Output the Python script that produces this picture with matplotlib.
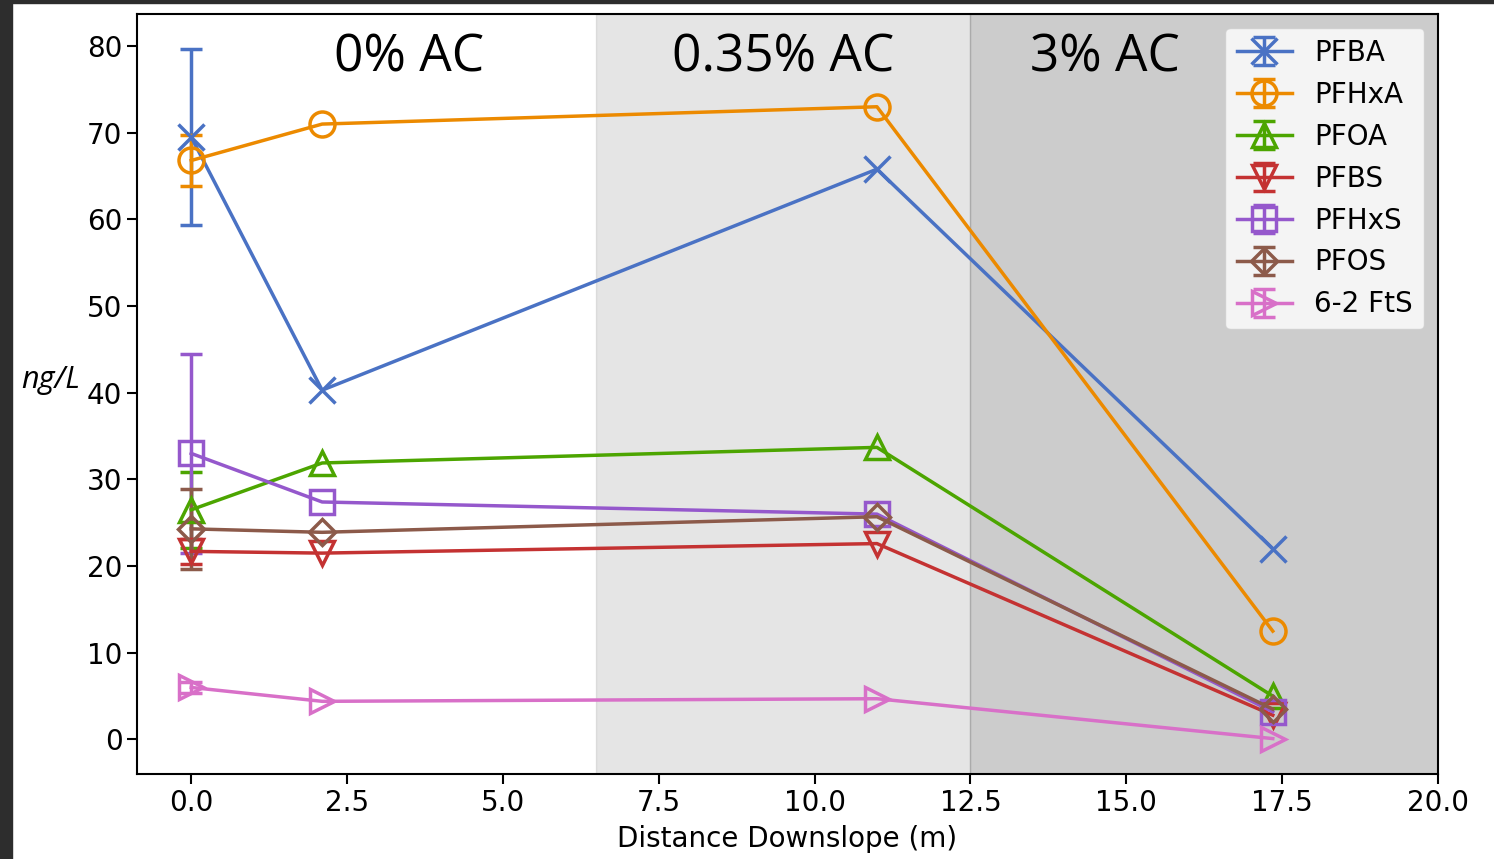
import numpy as np
import matplotlib
matplotlib.use("Agg")
import matplotlib.pyplot as plt
from matplotlib.patches import Rectangle

# ---- data ----
distance = [0.0, 2.1, 11.0, 17.35]
compounds = ["PFBA", "PFHxA", "PFOA", "PFBS", "PFHxS", "PFOS", "6-2 FtS"]
pfba = [69.5, 40.3, 65.8, 22.0]
pfhxa = [66.8, 71.0, 73.0, 12.5]
pfoa = [26.5, 31.9, 33.7, 5.0]
pfbs = [21.7, 21.5, 22.6, 2.8]
pfhxs = [33.0, 27.4, 26.0, 3.2]
pfos = [24.3, 23.9, 25.7, 3.5]
fts62 = [6.0, 4.4, 4.7, 0.1]
nan = np.nan
err_pfba = [10.2, nan, nan, nan]
err_pfhxa = [2.9, nan, nan, nan]
err_pfoa = [4.4, nan, nan, nan]
err_pfbs = [1.4, nan, nan, nan]
err_pfhxs = [11.5, nan, nan, nan]
err_pfos = [4.65, nan, nan, nan]
err_fts62 = [0.6, nan, nan, nan]
zones = ["0% AC", "0.35% AC", "3% AC"]
zone_edges = [6.5, 12.5, 20.0]
zone_label_x = [3.5, 9.5, 14.65]

series = [pfba, pfhxa, pfoa, pfbs, pfhxs, pfos, fts62]
errors = [err_pfba, err_pfhxa, err_pfoa, err_pfbs, err_pfhxs, err_pfos, err_fts62]
colors = ["#4a72c4", "#ec8a00", "#4ca500", "#c43232", "#9558cc", "#8c5a4a", "#d870c8"]
markers = ["x", "o", "^", "v", "s", "D", ">"]
msizes = [19, 18, 17, 17, 17, 13, 17]

fig = plt.figure(figsize=(14.94, 8.59), dpi=100)
fig.patch.set_facecolor("white")
ax = fig.add_axes([0.0917, 0.0990, 0.8708, 0.8847])

ax.axvspan(zone_edges[0], zone_edges[1], color="grey", alpha=0.2)
ax.axvspan(zone_edges[1], zone_edges[2], color="grey", alpha=0.4)

for name, vals, err, c, m, ms in zip(compounds, series, errors, colors, markers, msizes):
    ax.errorbar(distance, vals, yerr=err, color=c, marker=m, markersize=ms,
                markerfacecolor="none", markeredgewidth=2.5, linewidth=2.5,
                elinewidth=2.5, capsize=8, capthick=2.5, label=name)

ax.set_xlim(-0.87, 20)
ax.set_ylim(-3.98, 83.7)
ax.set_xticks([0, 2.5, 5, 7.5, 10, 12.5, 15, 17.5, 20])
ax.set_xticklabels(["0.0", "2.5", "5.0", "7.5", "10.0", "12.5", "15.0", "17.5", "20.0"])
ax.set_yticks([0, 10, 20, 30, 40, 50, 60, 70, 80])
ax.tick_params(labelsize=20, length=7, width=1.5)
for s in ax.spines.values():
    s.set_linewidth(1.5)

for lbl, xx in zip(zones, zone_label_x):
    ax.text(xx, 78.6, lbl, ha="center", va="center", fontsize=37,
            family=["Open Sans", "DejaVu Sans"])

ax.set_xlabel("Distance Downslope (m)", fontsize=20, labelpad=6)
ax.set_ylabel("ng/L", fontsize=22, rotation=0, fontstyle="italic",
              family=["Open Sans", "DejaVu Sans"], ha="center", va="center")
ax.yaxis.set_label_coords(-0.066, 0.518)

ax.legend(loc="upper right", fontsize=20, handlelength=2.0)

# screenshot dark border
fig.patches.append(Rectangle((0, 0), 12 / 1494, 1, transform=fig.transFigure,
                             color="#2d2d2d", zorder=-1))
fig.patches.append(Rectangle((0, 1 - 3 / 859), 1, 3 / 859, transform=fig.transFigure,
                             color="#2d2d2d", zorder=-1))

fig.savefig("out.png", dpi=100)
